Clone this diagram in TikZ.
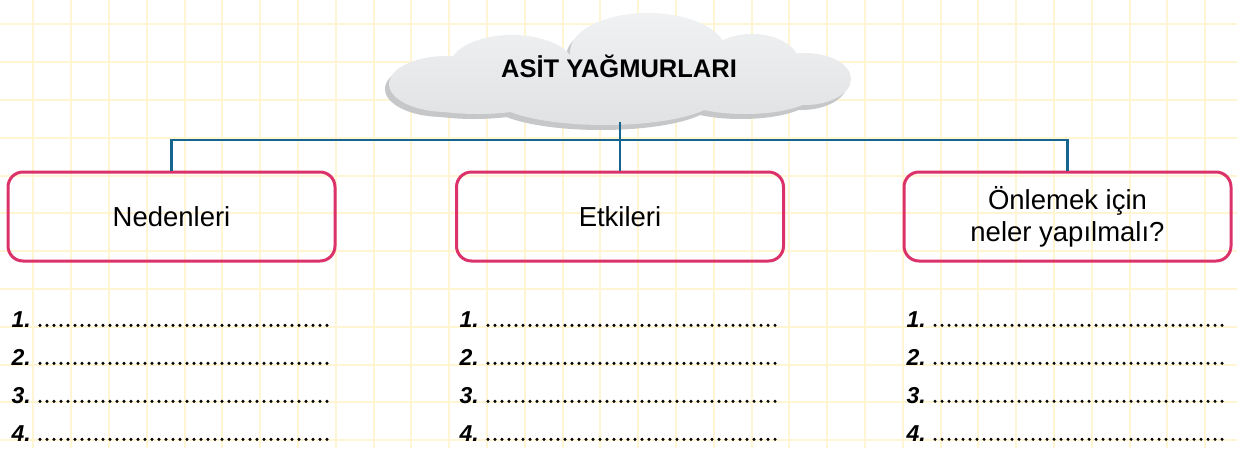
\documentclass[tikz,border=0pt]{standalone}
\usepackage{fontspec}
\setmainfont{Liberation Sans}
\usetikzlibrary{calc}

\definecolor{gridyellow}{HTML}{FFF5D2}
\definecolor{linkblue}{HTML}{16658F}
\definecolor{boxpink}{HTML}{DB3269}
\definecolor{cloudtop}{HTML}{F1F2F3}
\definecolor{cloudbottom}{HTML}{E0E1E3}
\definecolor{cloudshade}{HTML}{C6C7C9}

\begin{document}
\begin{tikzpicture}[x=1pt,y=-1pt,
  gridline/.style={draw=gridyellow,line width=2pt},
  cloudshape/.style={insert path={
    (447,84) ellipse [x radius=58pt,y radius=28pt]
    (512,66) ellipse [x radius=62pt,y radius=31pt]
    (648,52) ellipse [x radius=78pt,y radius=39pt]
    (752,63) ellipse [x radius=47pt,y radius=29pt]
    (805,79) ellipse [x radius=46pt,y radius=26pt]
    (605,97) ellipse [x radius=112pt,y radius=28pt]
    (745,93) ellipse [x radius=70pt,y radius=21pt]
    (478,96) ellipse [x radius=72pt,y radius=18pt]}},
  cloudtitle/.style={font=\fontsize{25.5}{28}\selectfont\bfseries,inner sep=0pt},
  topicbox/.style={draw=boxpink,line width=3pt,rounded corners=15pt,
    minimum width=327pt,minimum height=89pt,align=center,inner sep=0pt,
    font=\fontsize{27.5}{32}\selectfont},
  link/.style={draw=linkblue,line width=2.6pt},
  numlabel/.style={anchor=base east,inner sep=0pt,
    font=\fontsize{23}{26}\selectfont\bfseries\itshape},
  dotrow/.style={line width=3.4pt,line cap=round,dash pattern=on 0pt off 7pt}]

  % page and squared paper
  \useasboundingbox (0,0) rectangle (1237,448);
  \fill[white] (0,0) rectangle (1237,448);
  \foreach \i in {0,...,31}
    \draw[gridline] ({33.3+37.8*\i},0) -- ++(0,448);
  \foreach \j in {0,...,11}
    \draw[gridline] (0,{24.3+37.8*\j}) -- ++(1237,0);

  % cloud: darker underside, then the shaded body
  \begin{scope}[shift={(-4,5)}]
    \fill[cloudshade,cloudshape];
  \end{scope}
  \begin{scope}
    \clip[cloudshape];
    \shade[top color=cloudtop,bottom color=cloudbottom] (380,8) rectangle (860,130);
  \end{scope}
  \node[cloudtitle] (title) at (619,66) {ASİT YAĞMURLARI};
  \coordinate (cloudbase) at (620,122);

  % topic boxes
  \node[topicbox] (causes) at (171.5,216.5) {Nedenleri};
  \node[topicbox] (effects) at (620,216.5) {Etkileri};
  \node[topicbox] (prevention) at (1067.5,216.5) {Önlemek için\\neler yapılmalı?};

  % connectors
  \coordinate (bus) at (620,140);
  \draw[link] (causes.north) |- (bus) -| (prevention.north);
  \draw[link] (cloudbase) -- (effects.north);

  % numbered answer lines
  \foreach \col/\x in {a/31,b/479,c/926}
    \foreach \row/\y in {1/327,2/365,3/403,4/441} {
      \node[numlabel] (n\col\row) at (\x,\y) {\row.};
      \draw[dotrow] ([xshift=9pt,yshift=1.7pt]n\col\row.base east) -- ++(294,0);
    }
\end{tikzpicture}
\end{document}
